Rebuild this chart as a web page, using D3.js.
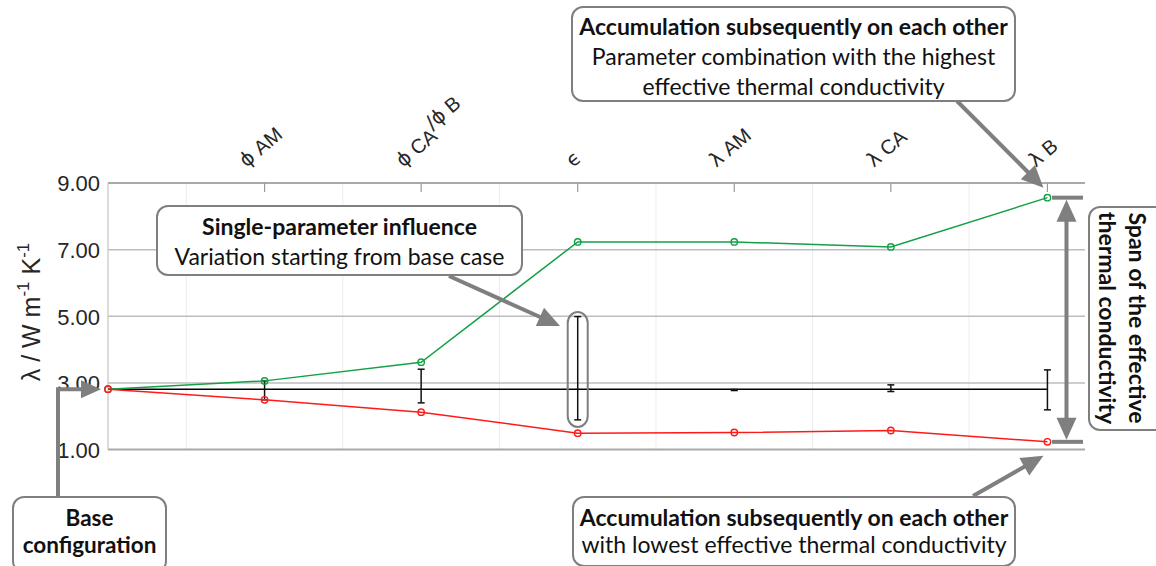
<!DOCTYPE html>
<html>
<head>
<meta charset="utf-8">
<script src="https://cdn.jsdelivr.net/npm/d3@7"></script>
<style>
  html, body { margin: 0; padding: 0; background: #fff; }
  svg { display: block; }
</style>
</head>
<body>
<svg id="chart" width="1156" height="566"></svg>
<script>
// Parameter order along the axis (index 0 = base configuration)
const categories = ["base", "ϕAM", "ϕCA/ϕB", "ϵ", "λAM", "λCA", "λB"];
// Effective thermal conductivity of the base configuration
const baseValue = 2.81;
// Accumulated variation: highest / lowest combination
const highSeries = [2.81, 3.06, 3.62, 7.23, 7.23, 7.08, 8.56];
const lowSeries  = [2.81, 2.49, 2.12, 1.49, 1.51, 1.57, 1.23];
// Single-parameter influence (range around the base case)
const singleMin = [null, 2.49, 2.40, 1.89, 2.77, 2.74, 2.19];
const singleMax = [null, 3.06, 3.41, 4.99, 2.80, 2.94, 3.39];
// Axis ticks
const yTicks = [1, 3, 5, 7, 9];
const yTickLabels = ["1.00", "3.00", "5.00", "7.00", "9.00"];

const svg = d3.select("#chart");
const W = 1156, H = 566;
svg.append("rect").attr("width", W).attr("height", H).attr("fill", "#fff");

const plot = { left: 108, right: 1085, top: 183, bottom: 449.5 };
const x = d3.scaleLinear().domain([0, 6.24]).range([plot.left, plot.right]);
const y = d3.scaleLinear().domain([1, 9]).range([plot.bottom, plot.top]);

const idx = d3.range(categories.length);
const annoFont = "Lato, 'Open Sans', sans-serif";
const axisFont = "'Liberation Sans', Arial, sans-serif";
const greekFont = "'DejaVu Sans', sans-serif";
const grey = "#7f7f7f";

// ---- grid ----
const grid = svg.append("g");
grid.selectAll("line.vminor")
  .data(d3.range(0.5, 6.0, 1))
  .join("line")
  .attr("x1", d => x(d)).attr("x2", d => x(d))
  .attr("y1", plot.top).attr("y2", plot.bottom)
  .attr("stroke", "#ececec").attr("stroke-width", 1);

grid.selectAll("line.h")
  .data(yTicks)
  .join("line")
  .attr("x1", plot.left).attr("x2", plot.right)
  .attr("y1", d => y(d)).attr("y2", d => y(d))
  .attr("stroke", (d, i) => (i === 0 || i === yTicks.length - 1) ? "#a9a9a9" : "#bdbdbd")
  .attr("stroke-width", (d, i) => (i === 0 || i === yTicks.length - 1) ? 2 : 1.5);

// left axis line
grid.append("line")
  .attr("x1", plot.left).attr("x2", plot.left)
  .attr("y1", plot.top).attr("y2", plot.bottom)
  .attr("stroke", "#c4c4c4").attr("stroke-width", 1.2);

// top-axis tick marks
grid.selectAll("line.tick")
  .data(idx.slice(1))
  .join("line")
  .attr("x1", d => x(d)).attr("x2", d => x(d))
  .attr("y1", plot.top).attr("y2", plot.top + 9)
  .attr("stroke", "#9a9a9a").attr("stroke-width", 1.2);

// ---- y tick labels ----
const yAxis = d3.axisLeft(y).tickValues(yTicks)
  .tickFormat((d, i) => yTickLabels[i]).tickSize(0).tickPadding(8);
const yg = svg.append("g").attr("transform", `translate(${plot.left},0)`).call(yAxis);
yg.select(".domain").remove();
yg.selectAll("text")
  .attr("font-family", axisFont).attr("font-size", 22)
  .attr("fill", "#262626").attr("dy", "0.36em");

// y axis title
const yTitle = svg.append("text")
  .attr("transform", "translate(40,312) rotate(-90)")
  .attr("text-anchor", "middle")
  .attr("font-family", axisFont).attr("font-size", 25).attr("fill", "#262626");
yTitle.append("tspan").text("λ / W m");
yTitle.append("tspan").attr("font-size", 17).attr("dy", -11).text("-1");
yTitle.append("tspan").attr("dy", 11).text(" K");
yTitle.append("tspan").attr("font-size", 17).attr("dy", -11).text("-1");

// ---- top category labels: [symbol, subscript, raise] ----
const labelSpec = [
  null,
  [["ϕ", " AM", 0]],
  [["ϕ", " CA", 0], ["/ϕ", " B", -10]],
  [["ϵ", "", 0]],
  [["λ", " AM", 0]],
  [["λ", " CA", 0]],
  [["λ", " B", 0]]
];
idx.slice(1).forEach(i => {
  const t = svg.append("text")
    .attr("font-family", axisFont).attr("font-size", 20).attr("fill", "#262626");
  labelSpec[i].forEach(([sym, sub, dy]) => {
    t.append("tspan").attr("dy", dy).attr("font-family", greekFont).text(sym);
    if (sub) t.append("tspan").text(sub);
  });
  const w = t.node().getComputedTextLength();
  t.attr("transform", `translate(${x(i) - 0.38 * Math.min(w, 48)},168) rotate(-40)`);
});

// ---- data ----
const line = d3.line().x((d, i) => x(i)).y(d => y(d));

svg.append("line")
  .attr("x1", x(0)).attr("x2", x(6))
  .attr("y1", y(baseValue)).attr("y2", y(baseValue))
  .attr("stroke", "#000").attr("stroke-width", 1.6);

// single-parameter ranges
const eb = svg.append("g").attr("stroke", "#111").attr("stroke-width", 1.5);
idx.filter(i => singleMin[i] !== null).forEach(i => {
  eb.append("line").attr("x1", x(i)).attr("x2", x(i))
    .attr("y1", y(singleMin[i])).attr("y2", y(singleMax[i]));
  [singleMin[i], singleMax[i]].forEach(v =>
    eb.append("line").attr("x1", x(i) - 3.5).attr("x2", x(i) + 3.5)
      .attr("y1", y(v)).attr("y2", y(v)));
});

const series = [
  { values: highSeries, color: "#13a047" },
  { values: lowSeries, color: "#ff1a1a" }
];
series.forEach(s => {
  svg.append("path").datum(s.values).attr("d", line)
    .attr("fill", "none").attr("stroke", s.color).attr("stroke-width", 1.5);
  svg.selectAll(null).data(s.values).join("circle")
    .attr("cx", (d, i) => x(i)).attr("cy", d => y(d)).attr("r", 3.2)
    .attr("fill", "none").attr("stroke", s.color).attr("stroke-width", 1.4);
});

// ---- annotation helpers ----
function arrowHead(g, tip, from, len = 20, half = 9) {
  const dx = tip[0] - from[0], dy = tip[1] - from[1];
  const n = Math.hypot(dx, dy), ux = dx / n, uy = dy / n;
  const bx = tip[0] - ux * len, by = tip[1] - uy * len;
  g.append("path")
    .attr("d", `M${tip[0]},${tip[1]}L${bx - uy * half},${by + ux * half}L${bx + uy * half},${by - ux * half}Z`)
    .attr("fill", grey);
  return [bx + ux * 2, by + uy * 2];
}
function arrow(g, from, tip, len = 20, half = 9) {
  const base = arrowHead(g, tip, from, len, half);
  g.append("line").attr("x1", from[0]).attr("y1", from[1])
    .attr("x2", base[0]).attr("y2", base[1])
    .attr("stroke", grey).attr("stroke-width", 4);
}
function box(g, x0, y0, x1, y1, fill = "#fff") {
  g.append("rect").attr("x", x0).attr("y", y0)
    .attr("width", x1 - x0).attr("height", y1 - y0)
    .attr("rx", 11).attr("ry", 11)
    .attr("fill", fill).attr("stroke", grey).attr("stroke-width", 2);
}
function lines(g, cx, rows) {
  rows.forEach(([txt, yy, bold, size]) => {
    g.append("text").attr("x", cx).attr("y", yy)
      .attr("text-anchor", "middle")
      .attr("font-family", annoFont).attr("font-size", size)
      .attr("font-weight", bold ? 700 : 400).attr("fill", "#111")
      .text(txt);
  });
}

const anno = svg.append("g");

// single-parameter influence
box(anno, x(3) - 10, 312, x(3) + 10, 427, "none");
arrow(anno, [449, 276], [560, 326], 22, 10);
box(anno, 157, 206, 522, 275);
lines(anno, 339.5, [
  ["Single-parameter influence", 235, true, 23],
  ["Variation starting from base case", 265, false, 23]
]);

// highest combination
arrow(anno, [957, 101], [x(6) - 4, y(highSeries[6]) - 10], 22, 10);
box(anno, 572, 7, 1015, 101);
lines(anno, 793.5, [
  ["Accumulation subsequently on each other", 35, true, 23],
  ["Parameter combination with the highest", 65, false, 23],
  ["effective thermal conductivity", 95, false, 23]
]);

// lowest combination
arrow(anno, [973, 496], [x(6) - 4, y(lowSeries[6]) + 14], 22, 10);
box(anno, 573, 497, 1015, 566);
lines(anno, 794, [
  ["Accumulation subsequently on each other", 526, true, 23],
  ["with lowest effective thermal conductivity", 553, false, 23]
]);

// base configuration
const by0 = y(baseValue);
anno.append("path")
  .attr("d", `M58,497V${by0}H84`)
  .attr("fill", "none").attr("stroke", grey).attr("stroke-width", 4);
arrowHead(anno, [x(0) - 7, by0], [58, by0], 20, 9);
box(anno, 13, 497, 166, 572);
lines(anno, 89.5, [
  ["Base", 526, true, 22.5],
  ["configuration", 553, true, 22.5]
]);

// span of the effective thermal conductivity
const sx = 1066.5, yTop = y(highSeries[6]), yBot = y(lowSeries[6]);
[yTop, yBot].forEach(v => anno.append("line")
  .attr("x1", 1052).attr("x2", 1083).attr("y1", v).attr("y2", v)
  .attr("stroke", grey).attr("stroke-width", 4));
const t1 = arrowHead(anno, [sx, yTop + 2], [sx, yBot], 22, 10);
const t2 = arrowHead(anno, [sx, yBot - 2], [sx, yTop], 22, 10);
anno.append("line").attr("x1", sx).attr("x2", sx)
  .attr("y1", t1[1]).attr("y2", t2[1])
  .attr("stroke", grey).attr("stroke-width", 4);
box(anno, 1089, 207, 1166, 430);
const sg = anno.append("g").attr("transform", "translate(1122,318) rotate(90)");
lines(sg, 0, [
  ["Span of the effective", -7, true, 23],
  ["thermal conductivity", 23, true, 23]
]);
</script>
</body>
</html>
